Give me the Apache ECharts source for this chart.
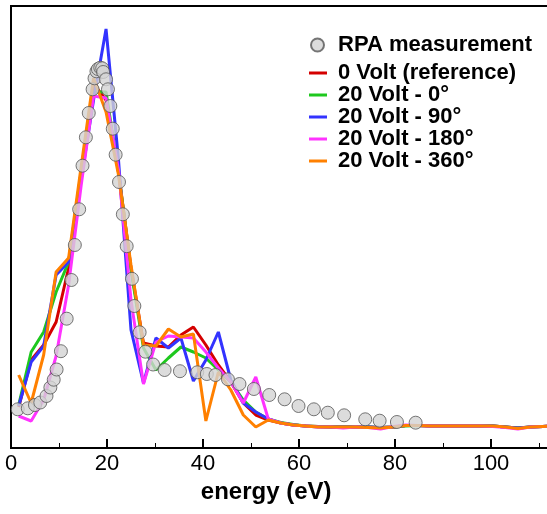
<!DOCTYPE html>
<html><head><meta charset="utf-8">
<script src="https://cdn.jsdelivr.net/npm/echarts@6/dist/echarts.min.js"></script>
<style>html,body{margin:0;padding:0;background:#fff}#c{width:547px;height:514px}</style>
</head><body><div id="c"></div>
<script>
// RPA measurement (energy in eV, intensity in arbitrary units)
const rpaEnergy = [1.4,3.5,5.0,6.1,7.4,8.2,8.9,9.5,10.4,11.6,12.6,13.3,14.2,14.9,15.6,16.2,17.0,17.4,17.8,18.1,18.6,19.0,19.2,19.8,20.2,20.7,21.2,21.8,22.5,23.3,24.1,25.2,25.7,26.8,28.0,29.6,32.0,35.2,38.8,40.8,42.6,45.2,47.6,50.6,53.8,57.0,59.9,63.1,66.0,69.4,73.8,76.8,80.4,84.3];
const rpaIntensity = [38.7,39.7,43,45.5,52,60.5,68.3,78.5,96.8,129.3,168,203,238.7,282.3,310.7,335,358.7,369.7,376.7,379,380.3,379.7,376,368.7,358.7,342,319.3,293.3,266,233.7,201.8,169.2,142,115.7,96.3,83.5,78,76.8,75.7,74,73,68.7,64,59,53,48.7,42,38.7,35.3,32.7,28.7,27.3,26,25.3];

// Simulations (shared energy grid)
const simEnergy = [1.6,4.2,6.8,9.4,12.0,14.6,17.2,19.8,22.4,25.0,27.6,30.2,32.8,35.4,38.0,40.6,43.2,45.8,48.4,51.0,53.6,56.2,58.8,61.4,64.0,66.6,69.2,71.8,74.4,77.0,79.6,82.2,84.8,87.4,90.0,92.6,95.2,97.8,100.4,103.0,105.6,108.2,110.8,113.4];
const volt0Ref   = [41,88,103,126,180,276,364,348,276,180,105,102,101,113,121,103,83,66,45,33,28, 25,23,22,21.5,21,21,21,21,20.5,21,22.5,22.5,22,22,22,22,22,22,21,20,21,21.5,22];
const volt20deg0 = [43,96,116,156,186,276,356,356,276,178,100,78,90,101,96,90,78,66,48,36,29, 25.5,23.5,22,21.5,21,21,21,21,20.5,21,22,22.5,22,22,22,22,22,22,21,20,21,21.5,22];
const volt20deg90 = [42,86,102,173,186,268,348,419,288,118,65,110,100,110,67,88,116,68,45,36,29, 25,23,22,21,21,21,21,21,20.5,21,22.5,22.5,22,22,22,22,22,22,21,20,21,21.5,22];
const volt20deg180 = [32,27,48,92,163,262,352,350,278,148,64,106,112,111,110,96,80,66,45,71,29, 25,23,22,21,21,20,21,20.5,19,21.5,23,22.5,22,22,22,22,22,21.5,20.5,19,21,21.5,22];
const volt20deg360 = [73,45,93,176,190,281,370,336,273,183,103,102,119,111,114,27,76,58,33,21,28, 25,23,22,21,21,21,21,20.5,20,21,22.5,22.5,22,22,22,22,22,22,21,19.5,21,21.5,22];

const xTicks = {min: 0, max: 113, interval: 20};

const pair = (xs, ys) => xs.map((x, i) => [x, ys[i]]);
const FONT = "'Liberation Sans', Arial, sans-serif";

const lineSeries = [
  {name: '0 Volt (reference)', data: volt0Ref, color: '#d40000'},
  {name: '20 Volt - 0°', data: volt20deg0, color: '#1ec81e'},
  {name: '20 Volt - 90°', data: volt20deg90, color: '#3333ff'},
  {name: '20 Volt - 180°', data: volt20deg180, color: '#ff33ff'},
  {name: '20 Volt - 360°', data: volt20deg360, color: '#ff8000'}
].map((s, i) => ({
  name: s.name, type: 'line', data: pair(simEnergy, s.data),
  showSymbol: false, symbol: 'none', z: 2 + i,
  lineStyle: {color: s.color, width: 3}, itemStyle: {color: s.color},
  animation: false
}));

const chart = echarts.init(document.getElementById('c'), null, {renderer: 'canvas'});
chart.setOption({
  animation: false,
  backgroundColor: '#fff',
  grid: {left: 11, top: 6, width: 542.4, height: 442, outerBoundsMode: 'none', containLabel: false,
         show: true, borderColor: '#000', borderWidth: 2, backgroundColor: 'transparent'},
  legend: [
    {data: ['RPA measurement'], left: 305, top: 29, orient: 'vertical', itemWidth: 13, itemHeight: 13,
     textStyle: {fontFamily: FONT, fontWeight: 'bold', fontSize: 22, color: '#000', padding: [0,0,0,9]}},
    {data: lineSeries.map(s => s.name), left: 304, top: 57, orient: 'vertical', icon: 'rect', itemWidth: 18, itemHeight: 3, itemGap: 0,
     textStyle: {fontFamily: FONT, fontWeight: 'bold', fontSize: 22, lineHeight: 21.8, color: '#000', padding: [0,0,0,6]}}
  ],
  xAxis: {
    type: 'value', min: xTicks.min, max: xTicks.max, interval: xTicks.interval,
    name: 'energy (eV)', nameLocation: 'middle', nameGap: 31,
    nameTextStyle: {fontFamily: FONT, fontWeight: 'bold', fontSize: 24, color: '#000', padding: [0, 32, 0, 0]},
    axisLine: {lineStyle: {color: '#000', width: 2}},
    axisTick: {inside: true, length: 9, lineStyle: {color: '#000', width: 2}},
    minorTick: {show: true, splitNumber: 2, length: 5, lineStyle: {color: '#000', width: 1}},
    axisLabel: {fontFamily: FONT, fontSize: 22, color: '#000', margin: 5, showMaxLabel: false},
    splitLine: {show: false}
  },
  yAxis: {
    type: 'value', min: 0, max: 442,
    axisLine: {show: true, lineStyle: {color: '#000', width: 2}},
    axisTick: {show: false}, axisLabel: {show: false}, splitLine: {show: false}
  },
  series: [
    ...lineSeries,
    {name: 'RPA measurement', type: 'scatter', data: pair(rpaEnergy, rpaIntensity), z: 10,
     symbol: 'circle', symbolSize: 13,
     itemStyle: {color: '#d3d3d3', borderColor: '#555', borderWidth: 1}}
  ]
});
</script>
</body></html>
